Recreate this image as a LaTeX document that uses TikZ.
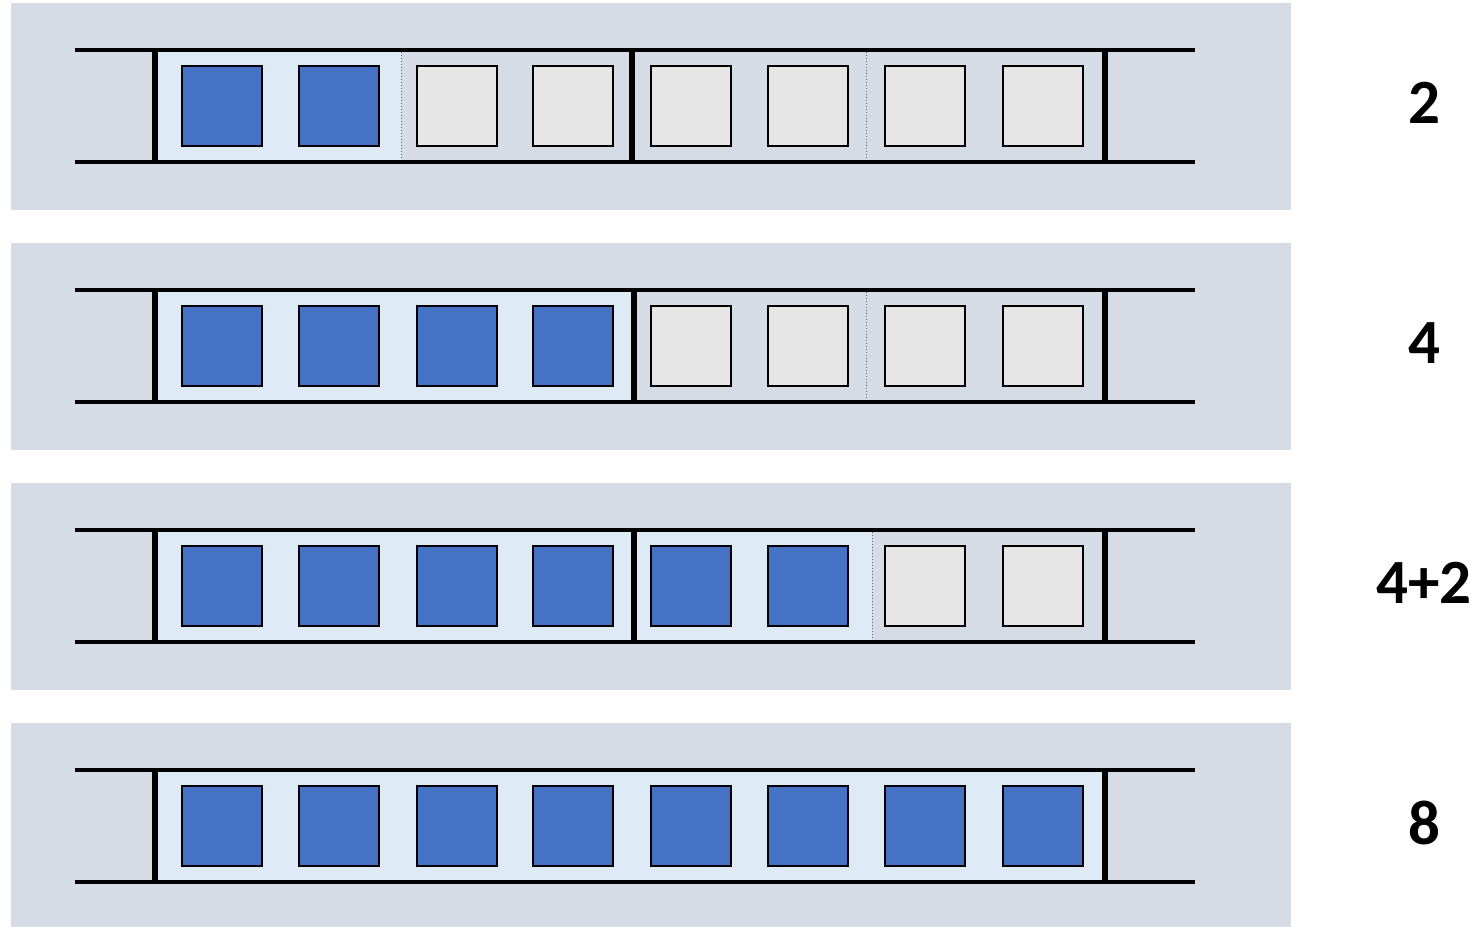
\documentclass[tikz,border=0pt]{standalone}
\usepackage{fontspec}
\setmainfont{Carlito}
\definecolor{panel}{HTML}{D6DCE5}
\definecolor{lblue}{HTML}{DEEBF7}
\definecolor{fullblue}{HTML}{4472C4}
\definecolor{empt}{HTML}{E6E6E6}
\begin{document}
\begin{tikzpicture}[x=1pt,y=-1pt,
  panelbox/.style={fill=panel,draw=none},
  usedbox/.style={draw=black,line width=2pt,fill=fullblue,minimum width=80pt,minimum height=80pt,inner sep=0pt},
  freebox/.style={draw=black,line width=2pt,fill=empt,minimum width=80pt,minimum height=80pt,inner sep=0pt},
  rail/.style={line width=3.6pt},
  wall/.style={line width=5.5pt},
  split/.style={draw=gray!80!black,line width=1pt,dotted},
  lbl/.style={font=\bfseries\fontsize{63}{63}\selectfont,inner sep=0pt}]
\useasboundingbox (0,0) rectangle (1471,926);
\def\xs{{221.5,339,456.5,573,691,808,925,1042.5}}
\foreach \r/\oy/\nused/\fillend/\midx/\dots/\lab/\ly in
  {1/0/2/401/632/{401,866}/2/103,
   2/240/4/634/634/{866}/4/343,
   3/480/6/872/634/{872}/4+2/583,
   4/720/8/1105/0/{}/8/823}{
  \begin{scope}[yshift=-\oy pt]
    \fill[panelbox] (11,3) rectangle (1291,210);
    \fill[lblue] (155,50) rectangle (\fillend,162);
    \foreach \d in \dots {\draw[split] (\d,51.5) -- (\d,160.5);}
    \foreach \i in {1,...,8}{
      \pgfmathsetmacro{\cx}{\xs[\i-1]}
      \ifnum\i>\nused
        \node[freebox] (sq\r-\i) at (\cx,106) {};
      \else
        \node[usedbox] (sq\r-\i) at (\cx,106) {};
      \fi
    }
    \draw[rail] (75,50) -- (1195,50);
    \draw[rail] (75,162) -- (1195,162);
    \draw[wall] (155,50) -- (155,162);
    \draw[wall] (1105,50) -- (1105,162);
    \ifnum\midx>0 \draw[wall] (\midx,50) -- (\midx,162); \fi
  \end{scope}
  \node[lbl] (lab\r) at (1424,\ly) {\lab};
}
\end{tikzpicture}
\end{document}
